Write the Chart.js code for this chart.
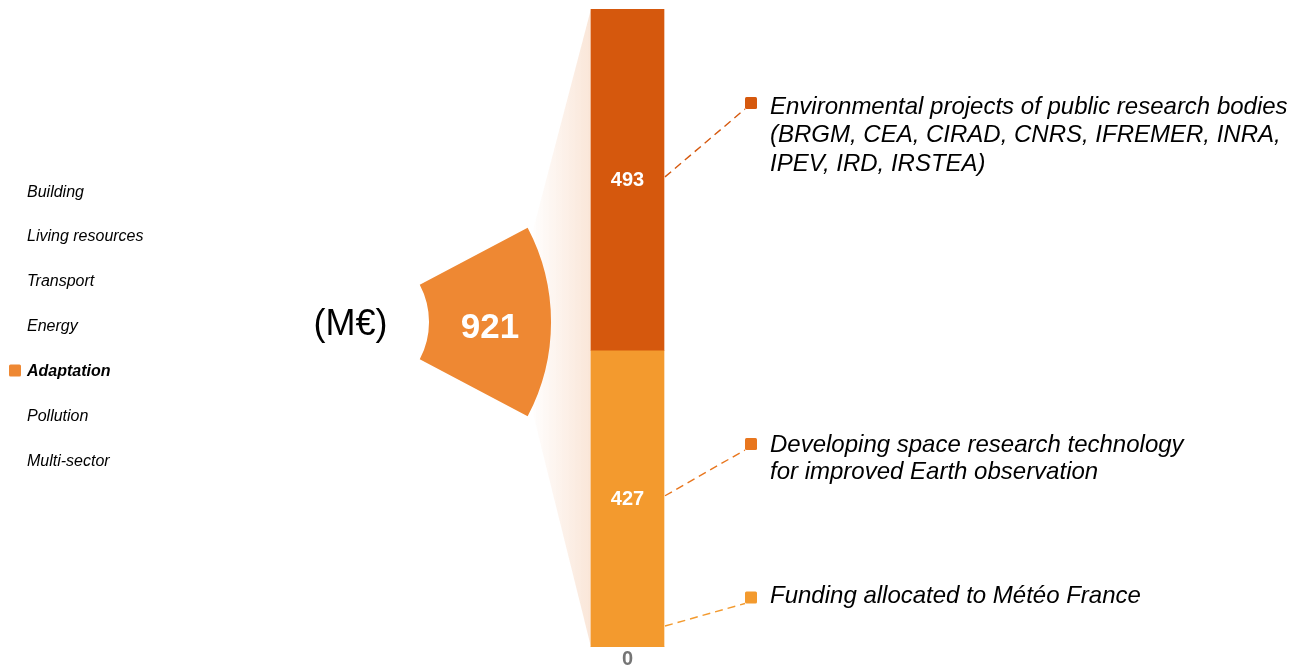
<!DOCTYPE html>
<html><head><meta charset="utf-8">
<script src="https://cdn.jsdelivr.net/npm/chart.js@4.4.0/dist/chart.umd.min.js"></script>
<style>
html,body{margin:0;padding:0;background:#fff;width:1300px;height:666px;overflow:hidden}
canvas{position:absolute;left:0;top:0}
</style></head><body>
<canvas id="bar" width="1300" height="666"></canvas>
<canvas id="pie" width="1300" height="666"></canvas>
<script>
// ---- data ----
const sectors = ['Building', 'Living resources', 'Transport', 'Energy', 'Adaptation', 'Pollution', 'Multi-sector'];
const selectedSector = 'Adaptation';
const sectorTotal = [921];
const unitLabel = '(M€)';
const componentNames = [
  'Funding allocated to Météo France',
  'Developing space research technology for improved Earth observation',
  'Environmental projects of public research bodies (BRGM, CEA, CIRAD, CNRS, IFREMER, INRA, IPEV, IRD, IRSTEA)'
];
const componentLines = [
  ['Funding allocated to Météo France'],
  ['Developing space research technology', 'for improved Earth observation'],
  ['Environmental projects of public research bodies', '(BRGM, CEA, CIRAD, CNRS, IFREMER, INRA,', 'IPEV, IRD, IRSTEA)']
];
const componentValues = [0.4, 427.3, 493.4];
const barColors = ['#F39A2E', '#F39A2E', '#D5580D'];
const markerColors = ['#F39A2E', '#E8761E', '#D5580D'];
const wedgeColor = '#EE8833';

const FONT = '"Liberation Sans", Arial, Helvetica, sans-serif';
const stackTotal = componentValues.reduce((a, b) => a + b, 0);

// ---- doughnut (wedge) ----
const pieLabels = {
  id: 'pieLabels',
  afterDatasetsDraw(chart) {
    const ctx = chart.ctx;
    const arc = chart.getDatasetMeta(0).data[0];
    const c = arc.getCenterPoint();
    ctx.save();
    ctx.fillStyle = '#ffffff';
    ctx.font = 'bold 35px ' + FONT;
    ctx.textAlign = 'center';
    ctx.textBaseline = 'alphabetic';
    ctx.fillText(String(Math.round(sectorTotal[0])), c.x, c.y + 16);
    // unit label
    ctx.fillStyle = '#000000';
    ctx.font = '36px ' + FONT;
    ctx.fillText(unitLabel, 350.5, 335);
    // sector list
    ctx.textAlign = 'left';
    sectors.forEach((s, i) => {
      const y = 196.5 + i * 44.9;
      const sel = s === selectedSector;
      ctx.font = (sel ? 'italic bold ' : 'italic ') + '16px ' + FONT;
      ctx.fillStyle = '#000000';
      ctx.fillText(s, 27, y);
      if (sel) {
        ctx.fillStyle = wedgeColor;
        ctx.beginPath();
        if (ctx.roundRect) ctx.roundRect(9, y - 11.5, 12, 12, 1.5); else ctx.rect(9, y - 11.5, 12, 12);
        ctx.fill();
      }
    });
    ctx.restore();
  }
};

const pieChart = new Chart(document.getElementById('pie'), {
  type: 'doughnut',
  data: {
    labels: [selectedSector],
    datasets: [{ data: sectorTotal, backgroundColor: [wedgeColor], borderWidth: 0 }]
  },
  options: {
    responsive: false,
    animation: false,
    events: [],
    rotation: 62.15,
    circumference: 55.7,
    radius: 202,
    cutout: '39.6%',
    layout: { padding: { left: 0, right: 329.2, top: 0, bottom: 22 } },
    plugins: { legend: { display: false }, tooltip: { enabled: false } }
  },
  plugins: [pieLabels]
});

// ---- stacked bar ----
const barDecor = {
  id: 'barDecor',
  beforeDatasetsDraw(chart) {
    const ctx = chart.ctx;
    const arc = pieChart.getDatasetMeta(0).data[0];
    const topEl = chart.getDatasetMeta(componentValues.length - 1).data[0];
    const botEl = chart.getDatasetMeta(0).data[0];
    const left = topEl.x - topEl.width / 2;
    const p1 = { x: arc.x + arc.outerRadius * Math.cos(arc.startAngle) + 6, y: arc.y + arc.outerRadius * Math.sin(arc.startAngle) };
    const p2 = { x: arc.x + arc.outerRadius * Math.cos(arc.endAngle) + 6, y: arc.y + arc.outerRadius * Math.sin(arc.endAngle) };
    const g = ctx.createLinearGradient(Math.min(p1.x, p2.x) - 4, 0, left, 0);
    g.addColorStop(0, 'rgba(250,230,216,0)');
    g.addColorStop(1, 'rgba(250,230,216,1)');
    ctx.save();
    ctx.fillStyle = g;
    ctx.beginPath();
    ctx.moveTo(p1.x, p1.y);
    ctx.lineTo(left, topEl.y);
    ctx.lineTo(left, botEl.base);
    ctx.lineTo(p2.x, p2.y);
    ctx.closePath();
    ctx.fill();
    ctx.restore();
  },
  afterDatasetsDraw(chart) {
    const ctx = chart.ctx;
    const markerY = [597.5, 444, 103];
    const textY = [[603.3], [451.7, 479.3], [113.5, 142, 170.5]];
    ctx.save();
    componentValues.forEach((v, i) => {
      const el = chart.getDatasetMeta(i).data[0];
      const right = el.x + el.width / 2;
      const segH = Math.abs(el.base - el.y);
      let labelY, lineY, color;
      if (segH < 20) {
        labelY = el.base + 11;
        lineY = el.base - 21;
        color = '#757575';
      } else {
        labelY = (el.y + el.base) / 2;
        lineY = labelY - 3;
        color = '#ffffff';
      }
      // value label
      ctx.font = 'bold 20px ' + FONT;
      ctx.fillStyle = color;
      ctx.textAlign = 'center';
      ctx.textBaseline = 'middle';
      ctx.fillText(String(Math.round(v)), el.x, labelY + 1);
      // leader line
      const mx = 751, my = markerY[i];
      ctx.strokeStyle = markerColors[i];
      ctx.lineWidth = 1.4;
      ctx.setLineDash([8, 5]);
      ctx.beginPath();
      ctx.moveTo(right + 1, lineY);
      ctx.lineTo(mx - 6, my + 6);
      ctx.stroke();
      ctx.setLineDash([]);
      // marker
      ctx.fillStyle = markerColors[i];
      ctx.beginPath();
      if (ctx.roundRect) ctx.roundRect(mx - 6, my - 6, 12, 12, 1.5); else ctx.rect(mx - 6, my - 6, 12, 12);
      ctx.fill();
      // text
      ctx.fillStyle = '#000000';
      ctx.font = 'italic 24px ' + FONT;
      ctx.textAlign = 'left';
      ctx.textBaseline = 'alphabetic';
      componentLines[i].forEach((ln, k) => ctx.fillText(ln, 770, textY[i][k]));
    });
    ctx.restore();
  }
};

new Chart(document.getElementById('bar'), {
  type: 'bar',
  data: {
    labels: [selectedSector],
    datasets: componentNames.map((n, i) => ({
      label: n,
      data: [componentValues[i]],
      backgroundColor: barColors[i],
      borderWidth: 0,
      barThickness: 73
    }))
  },
  options: {
    responsive: false,
    animation: false,
    events: [],
    layout: { padding: { left: 0, right: 45, top: 9, bottom: 19 } },
    plugins: { legend: { display: false }, tooltip: { enabled: false } },
    scales: {
      x: { stacked: true, display: false },
      y: { stacked: true, display: false, min: 0, max: stackTotal }
    }
  },
  plugins: [barDecor]
});
</script>
</body></html>
